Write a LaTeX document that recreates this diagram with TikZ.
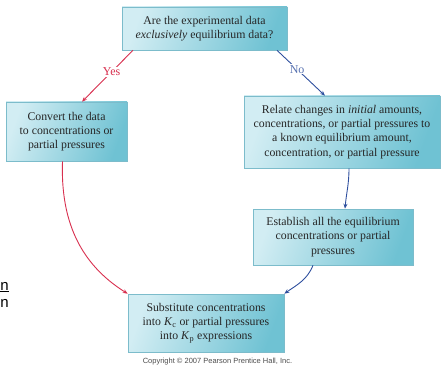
\documentclass[tikz,border=0pt]{standalone}
\usepackage{fontspec}
\setmainfont{Liberation Serif}
\setsansfont{Liberation Sans}
\usetikzlibrary{arrows.meta}
\definecolor{boxlight}{HTML}{D2EDF3}
\definecolor{boxdark}{HTML}{6FC2D3}
\definecolor{boxedge}{HTML}{7CBCCB}
\definecolor{yesred}{HTML}{D8304F}
\definecolor{noblue}{HTML}{2E4F9E}
\tikzset{
	stepbox/.style={draw=boxedge, line width=0.6pt, left color=boxlight, right color=boxdark,
		shading angle=70, align=center, inner sep=1pt, text=black!85,
		font=\fontsize{11.8}{14.2}\selectfont},
	yesline/.style={yesred, line width=0.9pt, -{Stealth[length=5pt,width=4pt]}},
	noline/.style={noblue, line width=0.9pt, -{Stealth[length=5pt,width=4pt]}},
	answer/.style={fill=white, inner sep=1pt, font=\fontsize{12}{13}\selectfont}
}
\begin{document}
\begin{tikzpicture}[x=1pt, y=-1pt]
	        \useasboundingbox (0, 0) rectangle (443, 366);
	        
	        \node [stepbox, minimum width=165, minimum height=43] at (204.5, 28.5) (ask) {Are the experimental data\\\textit{exclusively} equilibrium data?};
	        \node [stepbox, minimum width=121, minimum height=59] at (66.5, 131.5) (convert) {Convert the data\\to concentrations or\\partial pressures};
	        \node [stepbox, minimum width=196, minimum height=72] at (342, 132) (relate) {Relate changes in \textit{initial} amounts,\\concentrations, or partial pressures to\\a known equilibrium amount,\\concentration, or partial pressure};
	        \node [stepbox, minimum width=160, minimum height=56] at (333, 237) (establish) {Establish all the equilibrium\\concentrations or partial\\pressures};
	        \node [stepbox, minimum width=156, minimum height=58] at (206, 323) (subst) {Substitute concentrations\\into \textit{K}\textsubscript{c} or partial pressures\\into \textit{K}\textsubscript{p} expressions};
	        
	        \draw [yesline] ([xshift=-71.5]ask.south) -- node[answer, pos=0.42, text=yesred] {Yes} ([xshift=15.5]convert.north);
	        \draw [noline] ([xshift=72.5]ask.south) -- node[answer, pos=0.42, text=noblue!80] {No} ([xshift=-17]relate.north);
	        \draw [yesline] ([xshift=-4]convert.south) to[out=-92, in=148] (subst.north west);
	        \draw [noline] ([xshift=7]relate.south) to[out=-90, in=85] ([xshift=12]establish.north);
	        \draw [noline] ([xshift=-20]establish.south) to[out=-112, in=35] (subst.north east);
	        
	        \node [text=black!70, font=\sffamily\fontsize{7.5}{8}\selectfont] at (217.5, 362) (copy) {Copyright © 2007 Pearson Prentice Hall, Inc.};
	        \node [anchor=base west, inner sep=0pt, font=\sffamily\fontsize{15}{15}\selectfont] at (0.3, 290) (cutA) {\underline{n}};
	        \node [anchor=base west, inner sep=0pt, font=\sffamily\fontsize{15}{15}\selectfont] at (0.3, 307) (cutB) {n};
        \end{tikzpicture}
\end{document}
